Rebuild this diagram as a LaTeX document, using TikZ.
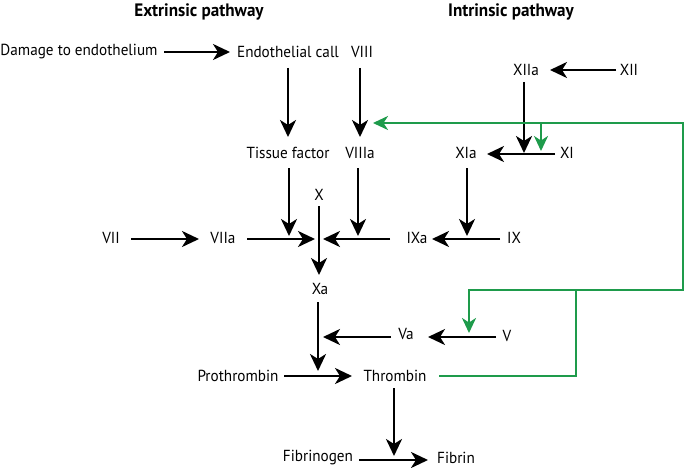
\documentclass[tikz,border=0pt]{standalone}
\usepackage{fontspec}
\setmainfont{PT Sans}[FakeStretch=0.95]
\usetikzlibrary{arrows.meta,calc}
\definecolor{tgreen}{RGB}{30,155,75}
\tikzset{
  lbl/.style={inner sep=0pt, font=\fontsize{16}{18}\selectfont},
  ttl/.style={inner sep=0pt, font=\fontsize{18}{20}\selectfont\bfseries},
  arr/.style={line width=2.5pt, -{Stealth[length=17pt,width=16pt,inset=5pt]}},
  garr/.style={line width=2.3pt, draw=tgreen, -{Stealth[length=15pt,width=14pt,inset=4.5pt,fill=tgreen]}},
  gline/.style={line width=2.3pt, draw=tgreen}
}
\begin{document}
\begin{tikzpicture}[x=1pt,y=-1pt]
\useasboundingbox (0,0) rectangle (685,468);
% titles
\node[ttl] (t1) at (199,12) {Extrinsic pathway};
\node[ttl] (t2) at (511,12) {Intrinsic pathway};
% labels
\node[lbl] (dam) at (79,52) {Damage to endothelium};
\node[lbl] (endo) at (288,52) {Endothelial call};
\node[lbl] (viii) at (362,52) {VIII};
\node[lbl] (xiia) at (526,70) {XIIa};
\node[lbl] (xii) at (629,70) {XII};
\node[lbl] (tf) at (288,153) {Tissue factor};
\node[lbl] (viiia) at (360,153) {VIIIa};
\node[lbl] (xia) at (466,153) {XIa};
\node[lbl] (xi) at (567,153) {XI};
\node[lbl] (x) at (319,195) {X};
\node[lbl] (vii) at (111,238) {VII};
\node[lbl] (viia) at (223,238) {VIIa};
\node[lbl] (ixa) at (417,238) {IXa};
\node[lbl] (ix) at (514,238) {IX};
\node[lbl] (xa) at (320,289) {Xa};
\node[lbl] (va) at (406,334) {Va};
\node[lbl] (v) at (507,336) {V};
\node[lbl] (pro) at (238,376) {Prothrombin};
\node[lbl] (thr) at (395,376) {Thrombin};
\node[lbl] (fgn) at (318,458) {Fibrinogen};
\node[lbl] (fib) at (456,458) {Fibrin};
% junction coordinates
\coordinate (jxi) at (524,154);
\coordinate (jxig) at (541,154);
\coordinate (jtf) at (289,239);
\coordinate (jviiia) at (358,239);
\coordinate (jix) at (467,239);
\coordinate (jx) at (319,239);
\coordinate (jva) at (318,337);
\coordinate (jthr) at (318,376);
\coordinate (jfib) at (394,460);
\coordinate (jv) at (469,337);
\coordinate (jviii) at (360,123);
% black arrows
\draw[arr] ($(dam)+(85,0)$) -- ($(endo)+(-58,0)$);
\draw[arr] ($(endo)+(0,16)$) -- ($(tf)+(0,-16)$);
\draw[arr] ($(viii)+(-2,16)$) -- ($(viiia)+(0,-16)$);
\draw[arr] ($(xii)+(-13,0)$) -- ($(xiia)+(24,0)$);
\draw[arr] ($(xiia)+(-2,12)$) -- ($(jxi)+(0,-1)$);
\draw[arr] ($(xi)+(-12,1)$) -- ($(xia)+(21,1)$);
\draw[arr] ($(tf)+(1,15)$) -- ($(jtf)+(0,-3)$);
\draw[arr] ($(viiia)+(-2,15)$) -- ($(jviiia)+(0,-3)$);
\draw[arr] ($(xia)+(1,15)$) -- ($(jix)+(0,-3)$);
\draw[arr] ($(vii)+(20,1)$) -- ($(viia)+(-24,1)$);
\draw[arr] ($(viia)+(24,1)$) -- ($(jx)+(-4,0)$);
\draw[arr] ($(ixa)+(-27,1)$) -- ($(jx)+(4,0)$);
\draw[arr] ($(ix)+(-14,1)$) -- ($(ixa)+(15,1)$);
\draw[arr] ($(x)+(0,11)$) -- ($(xa)+(-1,-14)$);
\draw[arr] ($(xa)+(-2,13)$) -- ($(jthr)+(0,-5)$);
\draw[arr] ($(va)+(-15,3)$) -- ($(jva)+(5,0)$);
\draw[arr] ($(v)+(-11,1)$) -- ($(va)+(22,3)$);
\draw[arr] ($(pro)+(46,0)$) -- ($(thr)+(-43,0)$);
\draw[arr] ($(thr)+(-1,12)$) -- ($(jfib)+(0,-4)$);
\draw[arr] ($(fgn)+(41,2)$) -- ($(fib)+(-28,2)$);
% green feedback
\coordinate (g1) at (576,376);
\coordinate (g2) at (576,290);
\coordinate (g3) at (683,290);
\coordinate (g4) at (683,123);
\coordinate (g5) at (541,123);
\coordinate (g6) at (469,290);
\draw[gline] ($(thr)+(44,0)$) -- (g1) -- (g2) -- (g3) -- (g4) -- (g5);
\draw[garr] (g5) -- ($(jviii)+(13,0)$);
\draw[garr] (g5) -- ($(jxig)+(0,-3)$);
\draw[garr] (g2) -- (g6) -- ($(jv)+(0,-4)$);
\end{tikzpicture}
\end{document}
